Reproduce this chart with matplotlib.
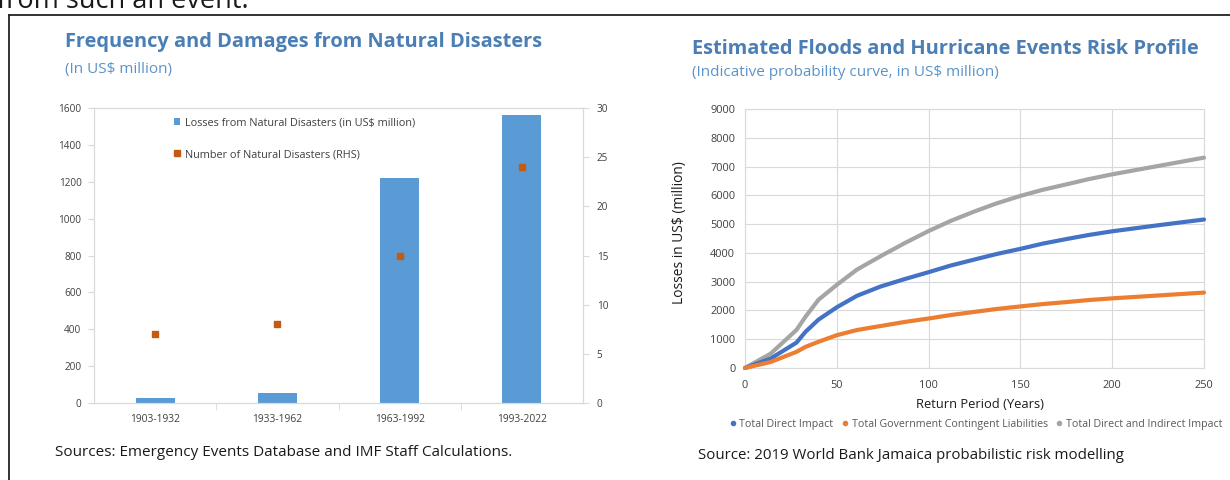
import matplotlib
matplotlib.use('Agg')
import matplotlib.pyplot as plt
from matplotlib.lines import Line2D

plt.rcParams['font.family'] = ['Open Sans', 'DejaVu Sans']

# ---------------- data ----------------
periods = ['1903-1932', '1933-1962', '1963-1992', '1993-2022']
losses = [29, 56, 1218, 1560]            # US$ million (LHS)
num_disasters = [7, 8, 15, 24]           # count (RHS)

return_period = [0, 14, 28, 33, 40, 50, 61, 74, 87, 100, 112, 125, 137, 150, 162, 175, 187, 200, 225, 250]
direct_impact = [0, 330, 880, 1260, 1680, 2110, 2510, 2835, 3090, 3330, 3560, 3770, 3960, 4140, 4320, 4480,
                 4620, 4750, 4960, 5160]
gov_liabilities = [0, 210, 560, 735, 910, 1140, 1320, 1460, 1600, 1720, 1840, 1950, 2050, 2140, 2220, 2290,
                   2360, 2420, 2520, 2620]
direct_indirect = [0, 500, 1320, 1785, 2370, 2890, 3420, 3890, 4340, 4760, 5110, 5440, 5720, 5980, 6190, 6380,
                   6560, 6730, 7020, 7310]

left_yticks = [0, 200, 400, 600, 800, 1000, 1200, 1400, 1600]
right_yticks = [0, 5, 10, 15, 20, 25, 30]
risk_yticks = [0, 1000, 2000, 3000, 4000, 5000, 6000, 7000, 8000, 9000]
risk_xticks = [0, 50, 100, 150, 200, 250]

# ---------------- layout helpers ----------------
W, H = 1230, 480
fig = plt.figure(figsize=(W / 100, H / 100), dpi=100)


def fx(px):
    return px / W


def fy(py):
    return 1 - py / H


TITLE_C = '#4a7eb4'
SUB_C = '#5b93c9'
GRID_C = '#d9d9d9'
TICK_C = '#404040'

# page fragments: cut-off sentence and box border
fig.text(fx(-3), fy(8), 'from such an event.', fontsize=19.5, color='#1a1a1a',
         ha='left', va='baseline')
fig.add_artist(Line2D([fx(9), fx(1232)], [fy(15), fy(15)], color='#222222', lw=1.3))
fig.add_artist(Line2D([fx(9), fx(9)], [fy(15), fy(482)], color='#222222', lw=1.3))

# ---------------- left chart ----------------
fig.text(fx(65), fy(47.5), 'Frequency and Damages from Natural Disasters', fontsize=14.4,
         fontweight='bold', color=TITLE_C, ha='left', va='baseline')
fig.text(fx(65), fy(72.5), '(In US$ million)', fontsize=11, color=SUB_C, ha='left', va='baseline')

ax = fig.add_axes([fx(94), fy(403), (583 - 94) / W, (403 - 108) / H])
xpos = list(range(len(periods)))
bars = ax.bar(xpos, losses, width=0.32, color='#5b9bd5', zorder=2)
ax.set_xlim(-0.5, 3.5)
ax.set_ylim(0, 1600)
ax.set_yticks(left_yticks)
ax.set_xticks(xpos)
ax.set_xticklabels(periods)
ax.set_xticks([0.5, 1.5, 2.5], minor=True)
ax.tick_params(axis='x', which='major', length=0, pad=8, labelsize=7.4, labelcolor=TICK_C)
ax.tick_params(axis='x', which='minor', length=5, color=GRID_C, direction='out')
ax.tick_params(axis='y', length=4, color=GRID_C, pad=5, labelsize=7.2, labelcolor=TICK_C)
for s in ax.spines.values():
    s.set_color(GRID_C)
    s.set_linewidth(0.8)

ax2 = ax.twinx()
pts, = ax2.plot(xpos, num_disasters, linestyle='none', marker='s', markersize=4.2,
                color='#c55a11', zorder=3)
ax2.set_ylim(0, 30)
ax2.set_yticks(right_yticks)
ax2.tick_params(axis='y', length=4, color=GRID_C, pad=6, labelsize=7.2, labelcolor=TICK_C)
for s in ax2.spines.values():
    s.set_color(GRID_C)
    s.set_linewidth(0.8)

leg = ax2.legend([bars, pts], ['Losses from Natural Disasters (in US$ million)',
                               'Number of Natural Disasters (RHS)'],
                 loc='upper left', bbox_to_anchor=(0.163, 0.968), frameon=False,
                 fontsize=7.8, labelcolor=TICK_C, handlelength=0.55, handleheight=0.55,
                 handletextpad=0.45, labelspacing=1.9, borderpad=0, borderaxespad=0)

fig.text(fx(55), fy(456.5), 'Sources: Emergency Events Database and IMF Staff Calculations.',
         fontsize=10.95, color='#1a1a1a', ha='left', va='baseline')

# ---------------- right chart ----------------
fig.text(fx(692), fy(53.5), 'Estimated Floods and Hurricane Events Risk Profile', fontsize=14.4,
         fontweight='bold', color=TITLE_C, ha='left', va='baseline')
fig.text(fx(692), fy(75.5), '(Indicative probability curve, in US$ million)', fontsize=11,
         color=SUB_C, ha='left', va='baseline')

ax3 = fig.add_axes([fx(745), fy(368), (1204 - 745) / W, (368 - 109) / H])
ax3.plot(return_period, direct_indirect, color='#a5a5a5', lw=3, solid_capstyle='round',
         zorder=3, clip_on=False, label='Total Direct and Indirect Impact')
ax3.plot(return_period, direct_impact, color='#4472c4', lw=3, solid_capstyle='round',
         zorder=4, clip_on=False, label='Total Direct Impact')
ax3.plot(return_period, gov_liabilities, color='#ed7d31', lw=3, solid_capstyle='round',
         zorder=4, clip_on=False, label='Total Government Contingent Liabilities')
ax3.set_xlim(0, 250)
ax3.set_ylim(0, 9000)
ax3.set_xticks(risk_xticks)
ax3.set_yticks(risk_yticks)
ax3.grid(True, color=GRID_C, lw=0.8, zorder=0)
ax3.set_axisbelow(True)
ax3.tick_params(axis='both', length=0, labelsize=7.9, labelcolor=TICK_C)
ax3.tick_params(axis='y', pad=7)
ax3.tick_params(axis='x', pad=9)
for s in ax3.spines.values():
    s.set_color(GRID_C)
    s.set_linewidth(0.8)

fig.text(fx(680), fy(233), 'Losses in US$ (million)', fontsize=9.9, color='#1a1a1a',
         rotation=90, ha='center', va='center')
fig.text(fx(980), fy(405), 'Return Period (Years)', fontsize=9.3, color='#1a1a1a',
         ha='center', va='center')

leg_handles = [Line2D([], [], linestyle='none', marker='o', markersize=3, color=c)
               for c in ['#4472c4', '#ed7d31', '#a5a5a5']]
fig.legend(leg_handles, ['Total Direct Impact', 'Total Government Contingent Liabilities',
                         'Total Direct and Indirect Impact'],
           loc='center', bbox_to_anchor=(fx(976), fy(424)), ncol=3, frameon=False,
           fontsize=7.65, labelcolor='#595959', handlelength=0.6, handletextpad=0.3,
           columnspacing=0.8, borderpad=0)

fig.text(fx(698), fy(459), 'Source: 2019 World Bank Jamaica probabilistic risk modelling',
         fontsize=10.85, color='#1a1a1a', ha='left', va='baseline')

fig.savefig('out.png', dpi=100)
